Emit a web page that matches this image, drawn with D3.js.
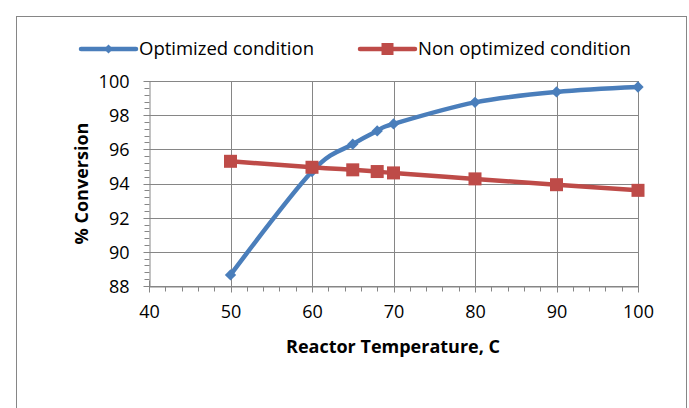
<!DOCTYPE html>
<html>
<head>
<meta charset="utf-8">
<script src="https://cdn.jsdelivr.net/npm/d3@7"></script>
<style>
  html, body { margin: 0; padding: 0; background: #fff; }
  svg { display: block; }
  text { font-family: "Open Sans", Lato, sans-serif; fill: #000; }
</style>
</head>
<body>
<svg id="chart" width="689" height="408"></svg>
<script>
const temperatures = [50, 60, 65, 68, 70, 80, 90, 100];
const optimized = [88.65, 94.7, 96.3, 97.08, 97.49, 98.75, 99.36, 99.65];
const nonOptimized = [95.3, 94.95, 94.8, 94.7, 94.62, 94.27, 93.93, 93.6];
const seriesNames = ["Optimized condition", "Non optimized condition"];
const xTicks = [40, 50, 60, 70, 80, 90, 100];
const yTicks = [88, 90, 92, 94, 96, 98, 100];
const xTitle = "Reactor Temperature, C";
const yTitle = "% Conversion";

const svg = d3.select("#chart");
const gray = "#868686";
const blue = "#4A7EBB";
const red = "#BE4B48";
const font = "'Open Sans', sans-serif";

// outer border
svg.append("rect").attr("x", 16.5).attr("y", 16.5).attr("width", 670).attr("height", 400)
  .attr("fill", "none").attr("stroke", gray).attr("stroke-width", 1);

const x = d3.scaleLinear().domain([40, 100]).range([149, 638]);
const y = d3.scaleLinear().domain([88, 100]).range([286, 81]);

const g = svg.append("g");

// gridlines
g.selectAll(".hgrid").data(yTicks).join("line")
  .attr("x1", x(40)).attr("x2", x(100))
  .attr("y1", d => Math.round(y(d)) + 0.5).attr("y2", d => Math.round(y(d)) + 0.5)
  .attr("stroke", gray).attr("stroke-width", 1);
g.selectAll(".vgrid").data(xTicks.slice(1)).join("line")
  .attr("y1", y(88)).attr("y2", y(100))
  .attr("x1", d => Math.round(x(d)) + 0.5).attr("x2", d => Math.round(x(d)) + 0.5)
  .attr("stroke", gray).attr("stroke-width", 1);

// minor ticks
const yMinor = d3.range(88, 100.001, 0.4).filter(v => Math.abs(v / 2 - Math.round(v / 2)) > 0.01);
g.selectAll(".ymin").data(yMinor).join("line")
  .attr("x1", Math.round(x(40)) - 5 + 0.5).attr("x2", Math.round(x(40)) + 0.5)
  .attr("y1", d => Math.round(y(d)) + 0.5).attr("y2", d => Math.round(y(d)) + 0.5)
  .attr("stroke", gray);
const xMinor = d3.range(40, 100.001, 2).filter(v => v % 10 !== 0);
g.selectAll(".xmin").data(xMinor).join("line")
  .attr("y1", Math.round(y(88)) + 0.5).attr("y2", Math.round(y(88)) + 5.5)
  .attr("x1", d => Math.round(x(d)) + 0.5).attr("x2", d => Math.round(x(d)) + 0.5)
  .attr("stroke", gray);

// axes (major ticks crossing)
const yAxis = d3.axisLeft(y).tickValues(yTicks).tickSize(0).tickPadding(20);
const ya = g.append("g").attr("transform", `translate(${Math.round(x(40)) + 0.5},0)`).call(yAxis);
ya.select(".domain").attr("stroke", gray);
ya.selectAll("text").attr("font-size", 18).attr("font-family", font).attr("dy", "0.36em");
g.selectAll(".ymaj").data(yTicks).join("line")
  .attr("x1", Math.round(x(40)) - 6 + 0.5).attr("x2", Math.round(x(40)) + 6.5)
  .attr("y1", d => Math.round(y(d)) + 0.5).attr("y2", d => Math.round(y(d)) + 0.5)
  .attr("stroke", gray);

const xAxis = d3.axisBottom(x).tickValues(xTicks).tickSize(0).tickPadding(19);
const xa = g.append("g").attr("transform", `translate(0,${Math.round(y(88)) + 0.5})`).call(xAxis);
xa.select(".domain").attr("stroke", gray);
xa.selectAll("text").attr("font-size", 18).attr("font-family", font);
g.selectAll(".xmaj").data(xTicks).join("line")
  .attr("y1", Math.round(y(88)) - 6 + 0.5).attr("y2", Math.round(y(88)) + 6.5)
  .attr("x1", d => Math.round(x(d)) + 0.5).attr("x2", d => Math.round(x(d)) + 0.5)
  .attr("stroke", gray);

// axis titles
svg.append("text").attr("x", 393).attr("y", 353).attr("text-anchor", "middle")
  .attr("font-size", 18).attr("font-weight", "bold").text(xTitle);
svg.append("text").attr("transform", `translate(88,${(y(88) + y(100)) / 2}) rotate(-90)`)
  .attr("text-anchor", "middle").attr("font-size", 18).attr("font-weight", "bold").text(yTitle);

// lines
const line = d3.line().x(d => x(d[0])).y(d => y(d[1])).curve(d3.curveCatmullRom.alpha(0));
const optData = temperatures.map((t, i) => [t, optimized[i]]);
const nonData = temperatures.map((t, i) => [t, nonOptimized[i]]);

svg.append("path").datum(optData).attr("d", line).attr("fill", "none")
  .attr("stroke", blue).attr("stroke-width", 4.5).attr("stroke-linejoin", "round");
svg.append("path").datum(nonData).attr("d", line).attr("fill", "none")
  .attr("stroke", red).attr("stroke-width", 4.5).attr("stroke-linejoin", "round");

svg.selectAll(".dm").data(optData).join("path")
  .attr("d", d3.symbol().type(d3.symbolSquare).size(64))
  .attr("transform", d => `translate(${x(d[0])},${y(d[1])}) rotate(45)`)
  .attr("fill", blue);
svg.selectAll(".sq").data(nonData).join("rect")
  .attr("x", d => x(d[0]) - 6.5).attr("y", d => y(d[1]) - 6.5)
  .attr("width", 13).attr("height", 13).attr("fill", red);

// legend
const legend = [
  { name: seriesNames[0], color: blue, x0: 81, type: "diamond" },
  { name: seriesNames[1], color: red, x0: 360, type: "square" }
];
const lg = svg.append("g");
legend.forEach(l => {
  lg.append("line").attr("x1", l.x0).attr("x2", l.x0 + 55).attr("y1", 49).attr("y2", 49)
    .attr("stroke", l.color).attr("stroke-width", 4.5).attr("stroke-linecap", "round");
  if (l.type === "diamond") {
    lg.append("path").attr("d", d3.symbol().type(d3.symbolSquare).size(40)())
      .attr("transform", `translate(${l.x0 + 27.5},49) rotate(45)`).attr("fill", l.color);
  } else {
    lg.append("rect").attr("x", l.x0 + 21.5).attr("y", 43).attr("width", 12).attr("height", 12).attr("fill", l.color);
  }
  lg.append("text").attr("x", l.x0 + 58).attr("y", 49).attr("dy", "0.35em")
    .attr("font-size", 18.5).text(l.name);
});
</script>
</body>
</html>
